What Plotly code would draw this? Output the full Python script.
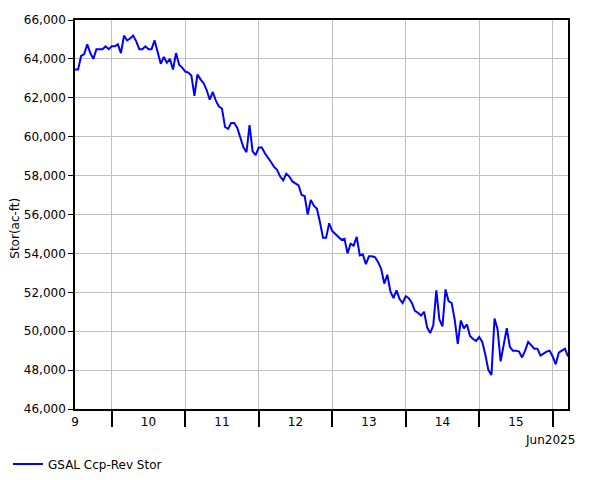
import pandas as pd
import plotly.graph_objects as go

# Hourly storage readings, starting 2025-06-09 12:00
start_time = "2025-06-09 12:00"
stor_values = [
    63450, 63450, 64150, 64250, 64750, 64300, 64000, 64500, 64500, 64500,  # 12-21
    64650, 64500, 64650, 64650, 64750, 64300, 65200, 64950, 65050, 65200,  # 22-31
    64900, 64500, 64500, 64650, 64500, 64500, 64950, 64300, 63750, 64100,  # 32-41
    63800, 64000, 63450, 64300, 63700, 63550, 63350, 63300, 63150, 62100,  # 42-51
    63200, 62950, 62750, 62400, 61900, 62300, 61850, 61550, 61450, 60500,  # 52-61
    60400, 60700, 60700, 60450, 60000, 59450, 59200, 60600, 59250, 59050,  # 62-71
    59450, 59450, 59150, 58950, 58700, 58450, 58300, 57950, 57750, 58100,  # 72-81
    57950, 57700, 57600, 57500, 57000, 56950, 56000, 56750, 56450, 56300,  # 82-91
    55600, 54800, 54800, 55550, 55150, 55000, 54850, 54700, 54750, 54000,  # 92-101
    54500, 54400, 54850, 53900, 53950, 53450, 53850, 53850, 53800, 53550,  # 102-111
    53200, 52450, 52900, 52050, 51700, 52100, 51650, 51450, 51800, 51700,  # 112-121
    51450, 51050, 50950, 50800, 51000, 50200, 49900, 50300, 52100, 50600,  # 122-131
    50250, 52150, 51550, 51450, 50600, 49350, 50550, 50150, 50350, 49750,  # 132-141
    49600, 49500, 49700, 49450, 48800, 48000, 47750, 50650, 50100, 48450,  # 142-151
    49300, 50150, 49200, 49000, 49000, 48950, 48650, 49000, 49450, 49250,  # 152-161
    49100, 49100, 48750, 48850, 48950, 49000, 48700, 48300, 48900, 49000,  # 162-171
    49100, 48700,                                                          # 172-173
]
times = pd.date_range(start_time, periods=len(stor_values), freq="h")

day_boundaries = pd.date_range("2025-06-10", "2025-06-16", freq="D")
day_centers = pd.date_range("2025-06-09 12:00", "2025-06-15 12:00", freq="D")
day_labels = ["9", "10", "11", "12", "13", "14", "15"]
y_ticks = list(range(46000, 66001, 2000))
y_labels = [f"{v:,}" for v in y_ticks]
series_name = "GSAL Ccp-Rev Stor"
y_title = "Stor(ac-ft)"
month_label = "Jun2025"

x_range = [times[0], times[-1]]
FONT = "DejaVu Sans"

fig = go.Figure()
fig.add_trace(go.Scatter(
    x=times, y=stor_values, mode="lines", name=series_name,
    line=dict(color="#0000ff", width=2),
))
# invisible trace to activate secondary x-axis for day labels
fig.add_trace(go.Scatter(
    x=[times[0]], y=[stor_values[0]], xaxis="x2", mode="markers",
    marker=dict(opacity=0), showlegend=False, hoverinfo="skip",
))

fig.update_layout(
    width=593, height=472,
    margin=dict(l=67, r=33, t=12, b=71, autoexpand=False),
    paper_bgcolor="white", plot_bgcolor="white",
    font=dict(family=FONT, size=12, color="black"),
    showlegend=True,
    legend=dict(
        orientation="h", xref="container", yref="container",
        x=0.0, xanchor="left", y=0.034, yanchor="middle",
        font=dict(family=FONT, size=12, color="black"),
        bgcolor="rgba(0,0,0,0)",
    ),
    xaxis=dict(
        range=x_range, tickmode="array", tickvals=day_boundaries,
        showticklabels=False, ticks="outside", ticklen=16, tickwidth=1.5,
        tickcolor="black", showgrid=True, gridcolor="#c0c0c0", gridwidth=1,
        showline=True, linecolor="black", linewidth=1.5, mirror=True,
        zeroline=False, automargin=False,
    ),
    xaxis2=dict(
        overlaying="x", side="bottom", matches="x", range=x_range,
        tickmode="array", tickvals=day_centers, ticktext=day_labels,
        ticks="outside", ticklen=2, tickcolor="rgba(0,0,0,0)",
        showgrid=False, showline=False, zeroline=False, automargin=False,
        tickfont=dict(family=FONT, size=12, color="black"),
    ),
    yaxis=dict(
        range=[46000, 66000], tickmode="array", tickvals=y_ticks,
        ticktext=y_labels, ticks="outside", ticklen=5, tickcolor="black",
        showgrid=True, gridcolor="#c0c0c0", gridwidth=1,
        showline=True, linecolor="black", linewidth=1.5, mirror=True,
        zeroline=False, automargin=False,
        tickfont=dict(family=FONT, size=12, color="black"),
    ),
    annotations=[
        dict(text=y_title, textangle=-90, xref="paper", yref="paper",
             x=-0.1205, y=0.465, xanchor="center", yanchor="middle",
             showarrow=False, font=dict(family=FONT, size=12, color="black")),
        dict(text=month_label, xref="paper", yref="paper",
             x=1.018, y=-0.08, xanchor="right", yanchor="middle",
             showarrow=False, font=dict(family=FONT, size=12, color="black")),
    ],
)

fig.write_html("out.html")
